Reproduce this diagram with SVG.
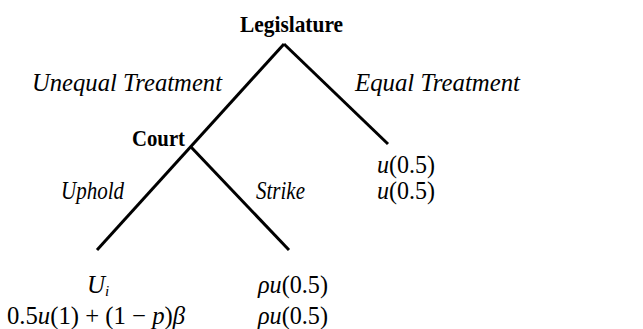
<svg xmlns="http://www.w3.org/2000/svg" width="643" height="329" viewBox="0 0 643 329">
<style>
text{font-family:"Liberation Serif","Times New Roman",serif;font-size:25px;fill:#000}
.b{font-weight:bold;font-size:24px}
.i{font-style:italic}
.e{stroke:#000;stroke-width:3;fill:none;stroke-linecap:butt}
</style>
<rect width="643" height="329" fill="#fff"/>
<g id="connectors">
<line class="e" x1="284" y1="44" x2="97" y2="250"/>
<line class="e" x1="284" y1="44" x2="388" y2="144"/>
<line class="e" x1="191" y1="147" x2="289" y2="250"/>
<text class="i" x="32" y="91" textLength="190" lengthAdjust="spacingAndGlyphs">Unequal Treatment</text>
<text class="i" x="355" y="91" textLength="165" lengthAdjust="spacingAndGlyphs">Equal Treatment</text>
<text class="i" x="61" y="199" textLength="63" lengthAdjust="spacingAndGlyphs">Uphold</text>
<text class="i" x="256" y="199" textLength="49" lengthAdjust="spacingAndGlyphs">Strike</text>
</g>
<g id="legislature">
<text class="b" x="240" y="32" textLength="103" lengthAdjust="spacingAndGlyphs">Legislature</text>
</g>
<g id="court">
<text class="b" x="132" y="146" textLength="53" lengthAdjust="spacingAndGlyphs">Court</text>
</g>
<g id="equal-payoff">
<text x="377" y="173" textLength="58" lengthAdjust="spacingAndGlyphs"><tspan class="i">u</tspan>(0.5)</text>
<text x="377" y="199" textLength="58" lengthAdjust="spacingAndGlyphs"><tspan class="i">u</tspan>(0.5)</text>
</g>
<g id="uphold-payoff">
<text class="i" x="87" y="293">U<tspan font-size="15" dy="3">i</tspan></text>
<text x="7" y="324" textLength="178" lengthAdjust="spacingAndGlyphs">0.5<tspan class="i">u</tspan>(1) + (1 − <tspan class="i">p</tspan>)<tspan class="i">β</tspan></text>
</g>
<g id="strike-payoff">
<text x="258" y="293" textLength="70" lengthAdjust="spacingAndGlyphs"><tspan class="i">ρu</tspan>(0.5)</text>
<text x="258" y="324" textLength="70" lengthAdjust="spacingAndGlyphs"><tspan class="i">ρu</tspan>(0.5)</text>
</g>
</svg>
